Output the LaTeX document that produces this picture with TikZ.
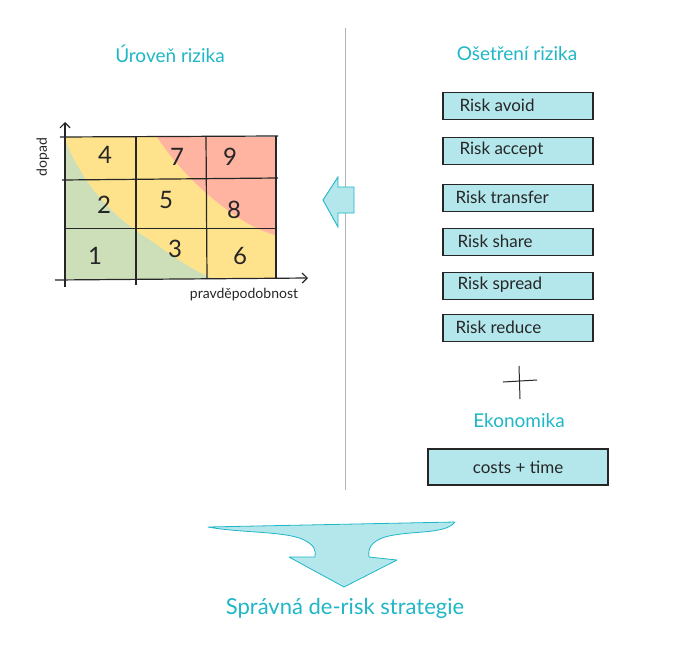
\documentclass[tikz,border=0pt]{standalone}
\usepackage{fontspec}
\setmainfont{Lato}
\usetikzlibrary{arrows.meta}
\definecolor{teal1}{HTML}{1FB6C6}
\definecolor{boxfill}{HTML}{B3E7EC}
\definecolor{hmgreen}{HTML}{CCDFB9}
\definecolor{hmyellow}{HTML}{FFE38C}
\definecolor{hmred}{HTML}{FFB3A1}
\tikzset{
  title/.style={text=teal1, font=\fontsize{19}{22}\selectfont},
  riskbox/.style={draw=black!85, line width=1.1pt, fill=boxfill, minimum height=27pt, inner sep=0pt},
  boxtext/.style={font=\fontsize{17}{20}\selectfont, text=black!85, anchor=west},
  num/.style={font=\fontsize{24}{28}\selectfont, text=black!85},
  gridline/.style={line width=1.2pt, black!85},
  bigarrow/.style={fill=boxfill, draw=teal1, line width=0.8pt, line join=round}
}
\begin{document}
\begin{tikzpicture}[x=1pt,y=-1pt]
\useasboundingbox (0,0) rectangle (690,650);
% separator
\draw[gray!60, line width=0.9pt] (345,28) coordinate (s1) -- (345,490) coordinate (s2);
% titles
\node[title] (t1) at (170,54) {Úroveň rizika};
\node[title] (t2) at (517,54) {Ošetření rizika};
% heatmap
\begin{scope}
\clip (65,137) rectangle (276,278);
\fill[hmyellow] (65,137) rectangle (276,278);
\fill[hmgreen] (65,140) .. controls (85,190) and (120,222) .. (150,240) .. controls (175,258) and (195,272) .. (220,282) -- (60,282) -- cycle;
\fill[hmred] (155,134) .. controls (175,165) and (200,190) .. (230,212) .. controls (250,226) and (265,233) .. (280,236) -- (280,134) -- cycle;
\end{scope}
\draw[gridline] (60,137) -- (278,136);
\draw[gridline] (62,180) -- (278,178);
\draw[gridline, line width=0.8pt] (65,228) -- (276,228);
\draw[gridline] (136,136) -- (136,285);
\draw[gridline] (206,136) -- (207,279);
\draw[gridline] (276,136) -- (276,279);
\draw[gridline, -{Straight Barb[length=5pt,width=10pt]}] (65,287) -- (65,122);
\draw[gridline, -{Straight Barb[length=5pt,width=10pt]}] (55,280) -- (308,278);
\node[num] (n4) at (105,155) {4};
\node[num] (n7) at (177,157) {7};
\node[num] (n9) at (230,157) {9};
\node[num] (n2) at (104,205) {2};
\node[num] (n5) at (166,200) {5};
\node[num] (n8) at (234,210) {8};
\node[num] (n1) at (95,256) {1};
\node[num] (n3) at (175,249) {3};
\node[num] (n6) at (240,256) {6};
\node[font=\fontsize{14}{16}\selectfont, text=black!85] (px) at (244,295) {pravděpodobnost};
\node[font=\fontsize{14}{16}\selectfont, text=black!85, rotate=90] (py) at (43,157) {dopad};
% left arrow
\draw[fill=boxfill, draw=teal1, line width=0.9pt, line join=miter] (323,200) -- (338,177) -- (338,187) -- (354,187) -- (354,213) -- (338,213) -- (338,227) -- cycle;
% risk boxes
\node[riskbox, minimum width=150pt] (b1) at (518,106) {};
\node[boxtext] (l1) at (456,105) {Risk avoid};
\node[riskbox, minimum width=150pt] (b2) at (518,151) {};
\node[boxtext] (l2) at (456,150) {Risk accept};
\node[riskbox, minimum width=150pt] (b3) at (518,198) {};
\node[boxtext] (l3) at (452,197) {Risk transfer};
\node[riskbox, minimum width=150pt] (b4) at (518,242) {};
\node[boxtext] (l4) at (454,241) {Risk share};
\node[riskbox, minimum width=150pt] (b5) at (518,286) {};
\node[boxtext] (l5) at (454,285) {Risk spread};
\node[riskbox, minimum width=150pt] (b6) at (518,328) {};
\node[boxtext] (l6) at (452,327) {Risk reduce};
% plus
\draw[black!85, line width=1pt] (503,382) -- (537,380);
\draw[black!85, line width=1pt] (519,366) -- (520,399);
\node[title] (t3) at (519,421) {Ekonomika};
\node[riskbox, minimum width=180pt, minimum height=36pt] (b7) at (518,467) {};
\node[font=\fontsize{17}{20}\selectfont, text=black!85] (l7) at (518,467) {costs + time};
% big arrow
\draw[bigarrow] (208,527) .. controls (240,533) and (282,531) .. (302,539)
  .. controls (315,545) and (316,550) .. (315,557) -- (289,557) -- (344,587) -- (397,560) -- (369,557)
  .. controls (368,549) and (370,542) .. (385,537) .. controls (410,530) and (445,535) .. (455,522)
  -- cycle;
\node[text=teal1, font=\fontsize{22}{26}\selectfont] (t4) at (345,608) {Správná de-risk strategie};
\end{tikzpicture}
\end{document}
